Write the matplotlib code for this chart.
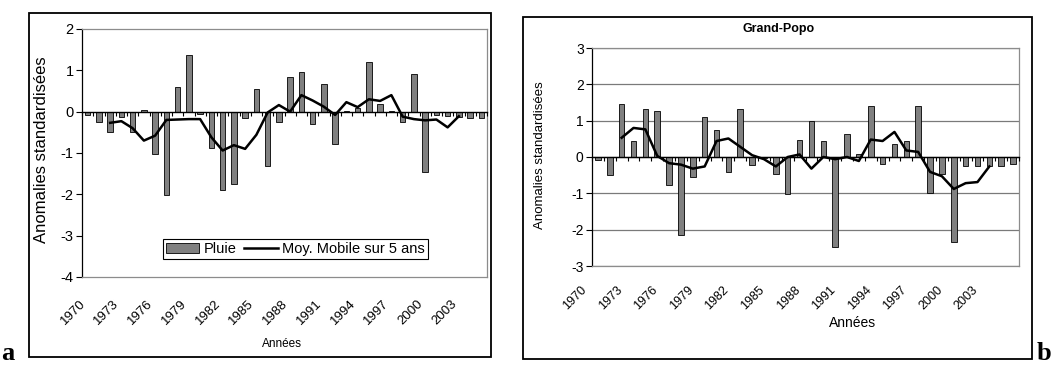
import numpy as np
import matplotlib
matplotlib.use("Agg")
import matplotlib.pyplot as plt
from matplotlib.patches import Rectangle
from matplotlib.transforms import ScaledTranslation

plt.rcParams["font.family"] = ["Liberation Sans", "DejaVu Sans"]
plt.rcParams["axes.unicode_minus"] = False

# ---- data ---------------------------------------------------------------
years = list(range(1970, 2006))
ma_years = list(range(1972, 2004))

# panel a: standardised rainfall anomalies and 5-year moving average
pluie_a = [-0.08, -0.24, -0.48, -0.12, -0.48, 0.04, -1.02, -2.02, 0.59, 1.36,
           -0.05, -0.89, -1.89, -1.75, -0.15, 0.56, -1.32, -0.25, 0.83, 0.96,
           -0.31, 0.67, -0.78, 0.01, 0.10, 1.20, 0.19, 0.02, -0.24, 0.90,
           -1.45, -0.08, -0.11, -0.12, -0.15, -0.15]
moy_a = [-0.27, -0.23, -0.40, -0.70, -0.58, -0.20, -0.19, -0.18, -0.18, -0.62,
         -0.94, -0.81, -0.90, -0.56, -0.02, 0.16, 0.00, 0.40, 0.27, 0.12,
         -0.08, 0.23, 0.11, 0.30, 0.26, 0.40, -0.12, -0.18, -0.21, -0.19,
         -0.38, -0.11]

# panel b: Grand-Popo
pluie_b = [-0.07, -0.49, 1.45, 0.44, 1.31, 1.26, -0.77, -2.14, -0.54, 1.09,
           0.73, -0.40, 1.31, -0.23, -0.02, -0.48, -1.02, 0.48, 1.00, 0.44,
           -2.47, 0.62, 0.07, 1.41, -0.18, 0.36, 0.44, 1.41, -1.00, -0.48,
           -2.33, -0.26, -0.26, -0.26, -0.26, -0.18]
moy_b = [0.53, 0.80, 0.76, 0.03, -0.17, -0.21, -0.32, -0.26, 0.44, 0.51,
         0.28, 0.05, -0.06, -0.26, 0.00, 0.07, -0.32, 0.00, -0.06, 0.00,
         -0.11, 0.48, 0.44, 0.69, 0.18, 0.14, -0.41, -0.53, -0.88, -0.72,
         -0.69, -0.26]

title_b = "Grand-Popo"
ylabel = "Anomalies standardisées"
xlabel = "Années"
label_bar = "Pluie"
label_line = "Moy. Mobile sur 5 ans"

# ---- figure -------------------------------------------------------------
W, H = 1052, 365
fig = plt.figure(figsize=(W / 100, H / 100), dpi=100)
fig.patch.set_facecolor("white")

x = np.arange(len(years))
ma_x = np.array([years.index(y) for y in ma_years])
BAR_C = "#808080"
GRAY = "#8c8c8c"


def px_axes(l, t, r, b):
    return fig.add_axes([l / W, 1 - b / H, (r - l) / W, (b - t) / H])


def style_panel(ax, vals, moy, ylim, tick_size, lab_size, lab_pad, lab_shift):
    bars = ax.bar(x, vals, width=0.47, color=BAR_C, edgecolor="black",
                  linewidth=0.6, zorder=3)
    line, = ax.plot(ma_x, moy, color="black", lw=1.8, zorder=4,
                    solid_joinstyle="round")
    ax.set_xlim(-0.5, len(years) - 0.5)
    ax.set_ylim(*ylim)
    ax.set_yticks(range(ylim[0], ylim[1] + 1))
    ax.tick_params(axis="y", direction="out", length=4, width=0.8,
                   labelsize=tick_size, pad=2, colors="black")
    ax.set_xticks(x[::3])
    ax.set_xticklabels([str(y) for y in years[::3]], rotation=45, ha="right",
                       fontsize=lab_size)
    ax.tick_params(axis="x", length=0, pad=lab_pad)
    if lab_shift:
        off = ScaledTranslation(lab_shift / 100, 0, fig.dpi_scale_trans)
        for t in ax.get_xticklabels():
            t.set_transform(t.get_transform() + off)
    for s in ("top", "right", "bottom"):
        ax.spines[s].set_color(GRAY)
        ax.spines[s].set_linewidth(0.9)
    ax.spines["left"].set_color("black")
    ax.spines["left"].set_linewidth(0.9)

    # category axis crossing the value axis at zero
    zero_frac = (0 - ylim[0]) / (ylim[1] - ylim[0])
    sec = ax.secondary_xaxis(zero_frac)
    sec.set_alignment("bottom")
    sec.set_xticks(np.arange(-0.5, len(years), 1.0))
    sec.tick_params(direction="out", length=3, width=0.8, labelbottom=False,
                    labeltop=False)
    sec.spines["bottom"].set_linewidth(1.0)
    sec.spines["bottom"].set_color("black")
    sec.set_zorder(5)
    return bars, line


# panel a
axA = px_axes(82, 29, 487, 277)
bars_a, line_a = style_panel(axA, pluie_a, moy_a, (-4, 2), 10.5, 9.5, 15, 0)
axA.set_ylabel(ylabel, fontsize=12)
axA.yaxis.set_label_coords(-0.082, 0.515)
leg = axA.legend([bars_a, line_a], [label_bar, label_line], ncol=2,
                 loc="lower left", bbox_to_anchor=(0.2, 0.073, 0.654, 0.081),
                 mode="expand", fontsize=10.5, frameon=True, fancybox=False,
                 edgecolor="black", framealpha=1, borderpad=0.2,
                 handlelength=2.3, handletextpad=0.3, borderaxespad=0,
                 columnspacing=1.0)
leg.get_frame().set_linewidth(0.8)
fig.text(282 / W, 1 - 344 / H, xlabel, ha="center", va="center", fontsize=8.5)

# panel b
axB = px_axes(592, 48, 1019, 266)
style_panel(axB, pluie_b, moy_b, (-3, 3), 10, 9, 13, -9)
axB.grid(axis="y", color="#7a7a7a", lw=0.9)
axB.set_axisbelow(True)
axB.set_ylabel(ylabel, fontsize=9.5)
axB.yaxis.set_label_coords(-0.108, 0.51)
fig.text(779 / W, 1 - 29 / H, title_b, ha="center", va="center",
         fontsize=9, fontweight="bold")
fig.text(853 / W, 1 - 323 / H, xlabel, ha="center", va="center", fontsize=10)

# chart frames
for l, t, r, b in ((29, 13, 491, 357), (523, 17, 1032, 359)):
    fig.add_artist(Rectangle((l / W, 1 - b / H), (r - l) / W, (b - t) / H,
                             transform=fig.transFigure, fill=False,
                             edgecolor="black", lw=1.3))

# panel letters
fig.text(1 / W, 1 - 360 / H, "a", family="Liberation Serif",
         fontweight="bold", fontsize=19, va="baseline", ha="left")
fig.text(1037 / W, 1 - 360 / H, "b", family="Liberation Serif",
         fontweight="bold", fontsize=19, va="baseline", ha="left")

fig.savefig("out.png", dpi=100, facecolor="white")
